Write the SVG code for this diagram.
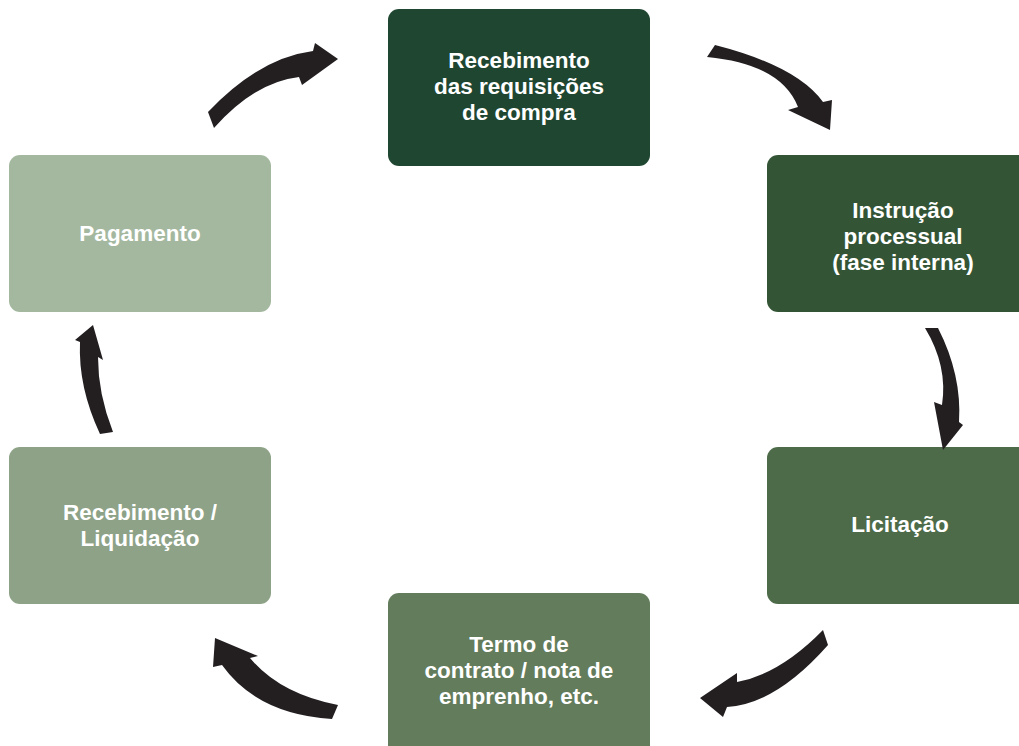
<svg xmlns="http://www.w3.org/2000/svg" width="1019" height="746" viewBox="0 0 1019 746">
<style>
.box{stroke:none}
.lbl{font-family:"Liberation Sans",Arial,sans-serif;font-weight:bold;font-size:22.5px;fill:#ffffff;text-anchor:middle}
.arr{fill:#231f20;stroke:none}
</style>
<rect width="1019" height="746" fill="#ffffff"/>
<g id="n1"><rect class="box" x="388" y="9" width="262" height="157" rx="11" fill="#1f4631"/>
<text class="lbl" x="519" y="68">Recebimento</text><text class="lbl" x="519" y="94">das requisições</text><text class="lbl" x="519" y="120">de compra</text></g>
<g id="n2"><rect class="box" x="767" y="155" width="280" height="157" rx="11" fill="#335535"/>
<text class="lbl" x="903" y="218">Instrução</text><text class="lbl" x="903" y="244">processual</text><text class="lbl" x="903" y="270">(fase interna)</text></g>
<g id="n3"><rect class="box" x="767" y="447" width="280" height="157" rx="11" fill="#4d6b49"/>
<text class="lbl" x="900" y="532">Licitação</text></g>
<g id="n4"><rect class="box" x="388" y="593" width="262" height="170" rx="11" fill="#637c5b"/>
<text class="lbl" x="519" y="652">Termo de</text><text class="lbl" x="519" y="678">contrato / nota de</text><text class="lbl" x="519" y="704">emprenho, etc.</text></g>
<g id="n5"><rect class="box" x="9" y="447" width="262" height="157" rx="11" fill="#8da287"/>
<text class="lbl" x="140" y="520">Recebimento /</text><text class="lbl" x="140" y="546">Liquidação</text></g>
<g id="n6"><rect class="box" x="9" y="155" width="262" height="157" rx="11" fill="#a4b8a0"/>
<text class="lbl" x="140" y="241">Pagamento</text></g>
<g id="connectors">
<path class="arr" d="M 208,112 Q 259,58 313,51 L 315,43 L 338,59 L 302,85 L 299,77 Q 255,82 214,128 Z"/>
<path class="arr" d="M 715,45 Q 797,66 823,102 L 832,100 L 830,130 L 788,110 L 798,107 Q 781,64 707,57 Z"/>
<path class="arr" d="M 925,328 Q 948,366 942,405 L 934,402 L 943,450 L 963,425 L 959,422 Q 962,375 938,328 Z"/>
<path class="arr" d="M 823,630 Q 780,674 737,682 L 737,673 L 700,698 L 723,717 L 727,707 Q 776,704 828,645 Z"/>
<path class="arr" d="M 215,638 L 258,656 L 250,658 Q 280,694 338,705 L 332,719 Q 257,714 222,665 L 213,667 Z"/>
<path class="arr" d="M 93,325 L 103,360 L 98,357 Q 98,394 113,432 L 100,434 Q 78,387 80,342 L 75,340 Z"/>
</g>
</svg>
